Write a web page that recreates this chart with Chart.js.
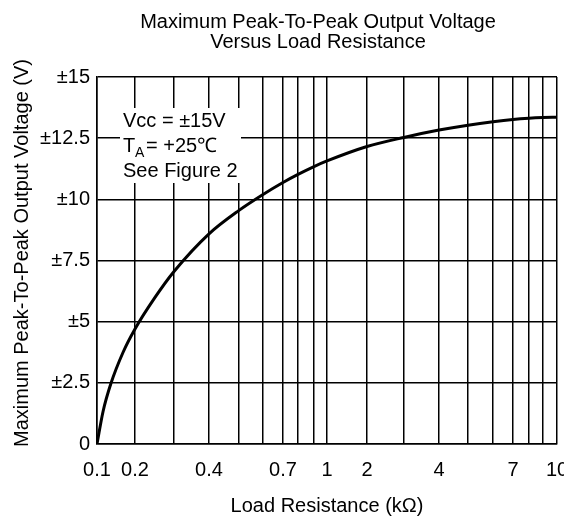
<!DOCTYPE html>
<html>
<head>
<meta charset="utf-8">
<script src="https://cdn.jsdelivr.net/npm/chart.js@4/dist/chart.umd.min.js"></script>
<style>
  html, body { margin: 0; background: #fff; }
  #wrap { width: 564px; height: 520px; }
</style>
</head>
<body>
<div id="wrap"><canvas id="voltChart"></canvas></div>
<script>
/* Max peak-to-peak output voltage vs load resistance */
const loadRes   = [0.1, 0.1158, 0.1368, 0.1684, 0.2, 0.2513, 0.3, 0.4, 0.5, 0.6, 0.7, 0.8, 0.9, 1, 2, 3, 4, 5, 6, 7, 8, 9, 10];
const peakVolts = [0, 1.32, 2.48, 3.74, 4.70, 5.99, 7.05, 8.59, 9.55, 10.2, 10.69, 11.02, 11.34, 11.57, 12.16, 12.53, 12.83, 13.03, 13.17, 13.26, 13.31, 13.34, 13.36];

const gridValues   = [0.1, 0.2, 0.3, 0.4, 0.5, 0.6, 0.7, 0.8, 0.9, 1, 2, 3, 4, 5, 6, 7, 8, 9, 10];
const labeledTicks = [0.1, 0.2, 0.4, 0.7, 1, 2, 4, 7, 10];
const yTickValues  = [0, 2.5, 5, 7.5, 10, 12.5, 15];

// the printed x grid is hand spaced (not a true log); where each grid line sits, as a share of axis width
const gridFrac = [0, .0826, .1674, .2435, .3087, .3609, .4043, .4370, .4717, .5, .587, .667, .7435, .8065, .8609, .9043, .9391, .9696, 1];

function warp(v) {
  if (v <= gridValues[0]) return 0;
  for (let i = 1; i < gridValues.length; i++) {
    if (v <= gridValues[i]) {
      const t = (v - gridValues[i - 1]) / (gridValues[i] - gridValues[i - 1]);
      return gridFrac[i - 1] + t * (gridFrac[i] - gridFrac[i - 1]);
    }
  }
  return 1;
}
function unwarp(f) {
  for (let i = 1; i < gridFrac.length; i++) {
    if (f <= gridFrac[i]) {
      const t = (f - gridFrac[i - 1]) / (gridFrac[i] - gridFrac[i - 1]);
      return gridValues[i - 1] + t * (gridValues[i] - gridValues[i - 1]);
    }
  }
  return gridValues[gridValues.length - 1];
}

class PrintedLogScale extends Chart.LinearScale {
  buildTicks() { return gridValues.map(v => ({ value: v })); }
  getPixelForValue(v) { return this.getPixelForDecimal(warp(v)); }
  getValueForPixel(p) { return unwarp(this.getDecimalForPixel(p)); }
}
PrintedLogScale.id = 'printedLog';
PrintedLogScale.defaults = Chart.LinearScale.defaults;
Chart.register(PrintedLogScale);

const FONT = '"Liberation Sans", Arial, sans-serif';

const printedText = {
  id: 'printedText',
  beforeDatasetsDraw(chart) {
    const { ctx } = chart;
    ctx.save();
    ctx.fillStyle = '#fff';
    ctx.fillRect(120, 108, 121, 75);
    ctx.fillStyle = '#000';
    ctx.textBaseline = 'alphabetic';
    ctx.textAlign = 'left';
    ctx.font = '20px ' + FONT;
    ctx.fillText('Vcc = \u00b115V', 123, 127);
    ctx.fillText('T', 123, 152);
    ctx.font = '14px ' + FONT;
    ctx.fillText('A', 135, 157);
    ctx.font = '20px ' + FONT;
    ctx.fillText('= +25\u2103', 146, 152);
    ctx.fillText('See Figure 2', 123, 177);
    ctx.restore();
  },
  afterDraw(chart) {
    const { ctx } = chart;
    ctx.save();
    ctx.fillStyle = '#000';
    ctx.font = '20px ' + FONT;
    ctx.textAlign = 'center';
    ctx.textBaseline = 'alphabetic';
    ctx.fillText('Maximum Peak-To-Peak Output Voltage', 318, 28);
    ctx.fillText('Versus Load Resistance', 318, 48);
    ctx.textBaseline = 'middle';
    ctx.fillText('Load Resistance (k\u03a9)', 327, 506);
    ctx.translate(22, 253);
    ctx.rotate(-Math.PI / 2);
    ctx.fillText('Maximum Peak-To-Peak Output Voltage (V)', 0, 0);
    ctx.restore();
  }
};

new Chart(document.getElementById('voltChart'), {
  type: 'line',
  data: {
    datasets: [{
      data: loadRes.map((r, i) => ({ x: r, y: peakVolts[i] })),
      borderColor: '#000', borderWidth: 3,
      pointRadius: 0, fill: false, cubicInterpolationMode: 'monotone'
    }]
  },
  options: {
    responsive: true, maintainAspectRatio: false, animation: false,
    layout: { padding: { top: 77, right: 7, left: 0, bottom: 0 } },
    plugins: { legend: { display: false }, tooltip: { enabled: false } },
    scales: {
      x: {
        type: 'printedLog', min: 0.1, max: 10,
        grid: { color: '#000', lineWidth: 1.5, drawTicks: false },
        border: { color: '#000', width: 1.5 },
        ticks: {
          autoSkip: false, maxRotation: 0, padding: 14, color: '#000',
          font: { family: FONT, size: 20 },
          callback: v => labeledTicks.includes(v) ? String(v) : ''
        },
        afterFit: s => { s.height = 76; s.paddingLeft = 0; s.paddingRight = 0; }
      },
      y: {
        min: 0, max: 15,
        afterBuildTicks: s => { s.ticks = yTickValues.map(v => ({ value: v })); },
        grid: { color: '#000', lineWidth: 1.5, drawTicks: false },
        border: { color: '#000', width: 1.5 },
        ticks: {
          padding: 7, color: '#000',
          font: { family: FONT, size: 20 },
          callback: v => v === 0 ? '0' : '\u00b1' + v
        },
        afterFit: s => { s.width = 97; s.paddingTop = 0; s.paddingBottom = 0; }
      }
    }
  },
  plugins: [printedText]
});
</script>
</body>
</html>
